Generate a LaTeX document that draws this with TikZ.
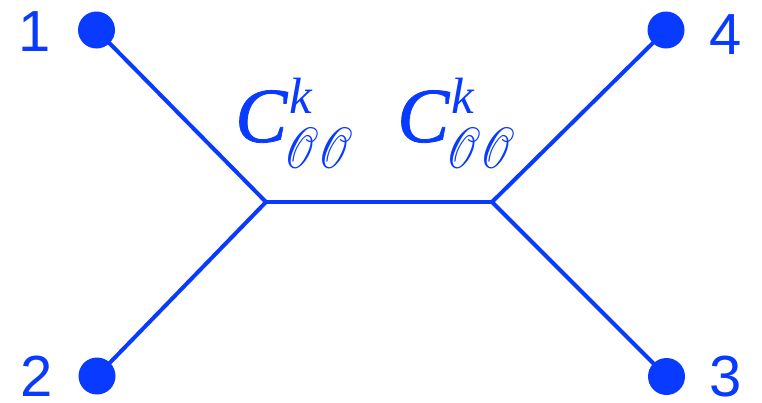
\documentclass[tikz,border=0pt]{standalone}
\usepackage{fontspec}
\usepackage{mathrsfs}
\usepackage{graphicx}
\newfontfamily\numfont{Liberation Sans}
\newfontfamily\labserif{Liberation Serif}
\newfontface\labserifC{Liberation Serif Italic}[FakeBold=1]
\definecolor{fblue}{RGB}{8,58,255}
\newcommand{\cooLabel}{%
  \rlap{\fontsize{78}{84}\labserifC C}%
  \rlap{\hspace{54pt}\raisebox{29pt}{\fontsize{51}{54}\labserif\itshape k}}%
  \hspace{49pt}\raisebox{-26pt}{\scalebox{4.2}[5.8]{$\mathscr{O}\mathscr{O}$}}}
\tikzset{
  edge/.style={draw=fblue, line width=4pt},
  vdot/.style={circle, fill=fblue, minimum size=37pt, inner sep=0pt},
  vert/.style={coordinate},
  numlab/.style={text=fblue, font=\numfont\fontsize{58}{60}\selectfont, inner sep=0pt},
  clab/.style={text=fblue, inner sep=0pt, anchor=base west}
}
\begin{document}
\begin{tikzpicture}[x=1pt,y=-1pt]
\useasboundingbox (0,0) rectangle (762,402);
\node[vdot] (p1) at (96.5,30) {};
\node[vdot] (p2) at (97,376) {};
\node[vdot] (p4) at (666,30) {};
\node[vdot] (p3) at (666.5,376.5) {};
\node[vert] (a) at (266,202) {};
\node[vert] (b) at (492,202) {};
\draw[edge] (p1.center) -- (a) -- (p2.center);
\draw[edge] (a) -- (b);
\draw[edge] (p4.center) -- (b) -- (p3.center);
\node[numlab] (l1) at (35,32) {1};
\node[numlab] (l2) at (37,376) {2};
\node[numlab] (l4) at (726,35) {4};
\node[numlab] (l3) at (726,377) {3};
\node[clab] (c1) at (235,142) {\cooLabel};
\node[clab] (c2) at (397,142) {\cooLabel};
\end{tikzpicture}
\end{document}
